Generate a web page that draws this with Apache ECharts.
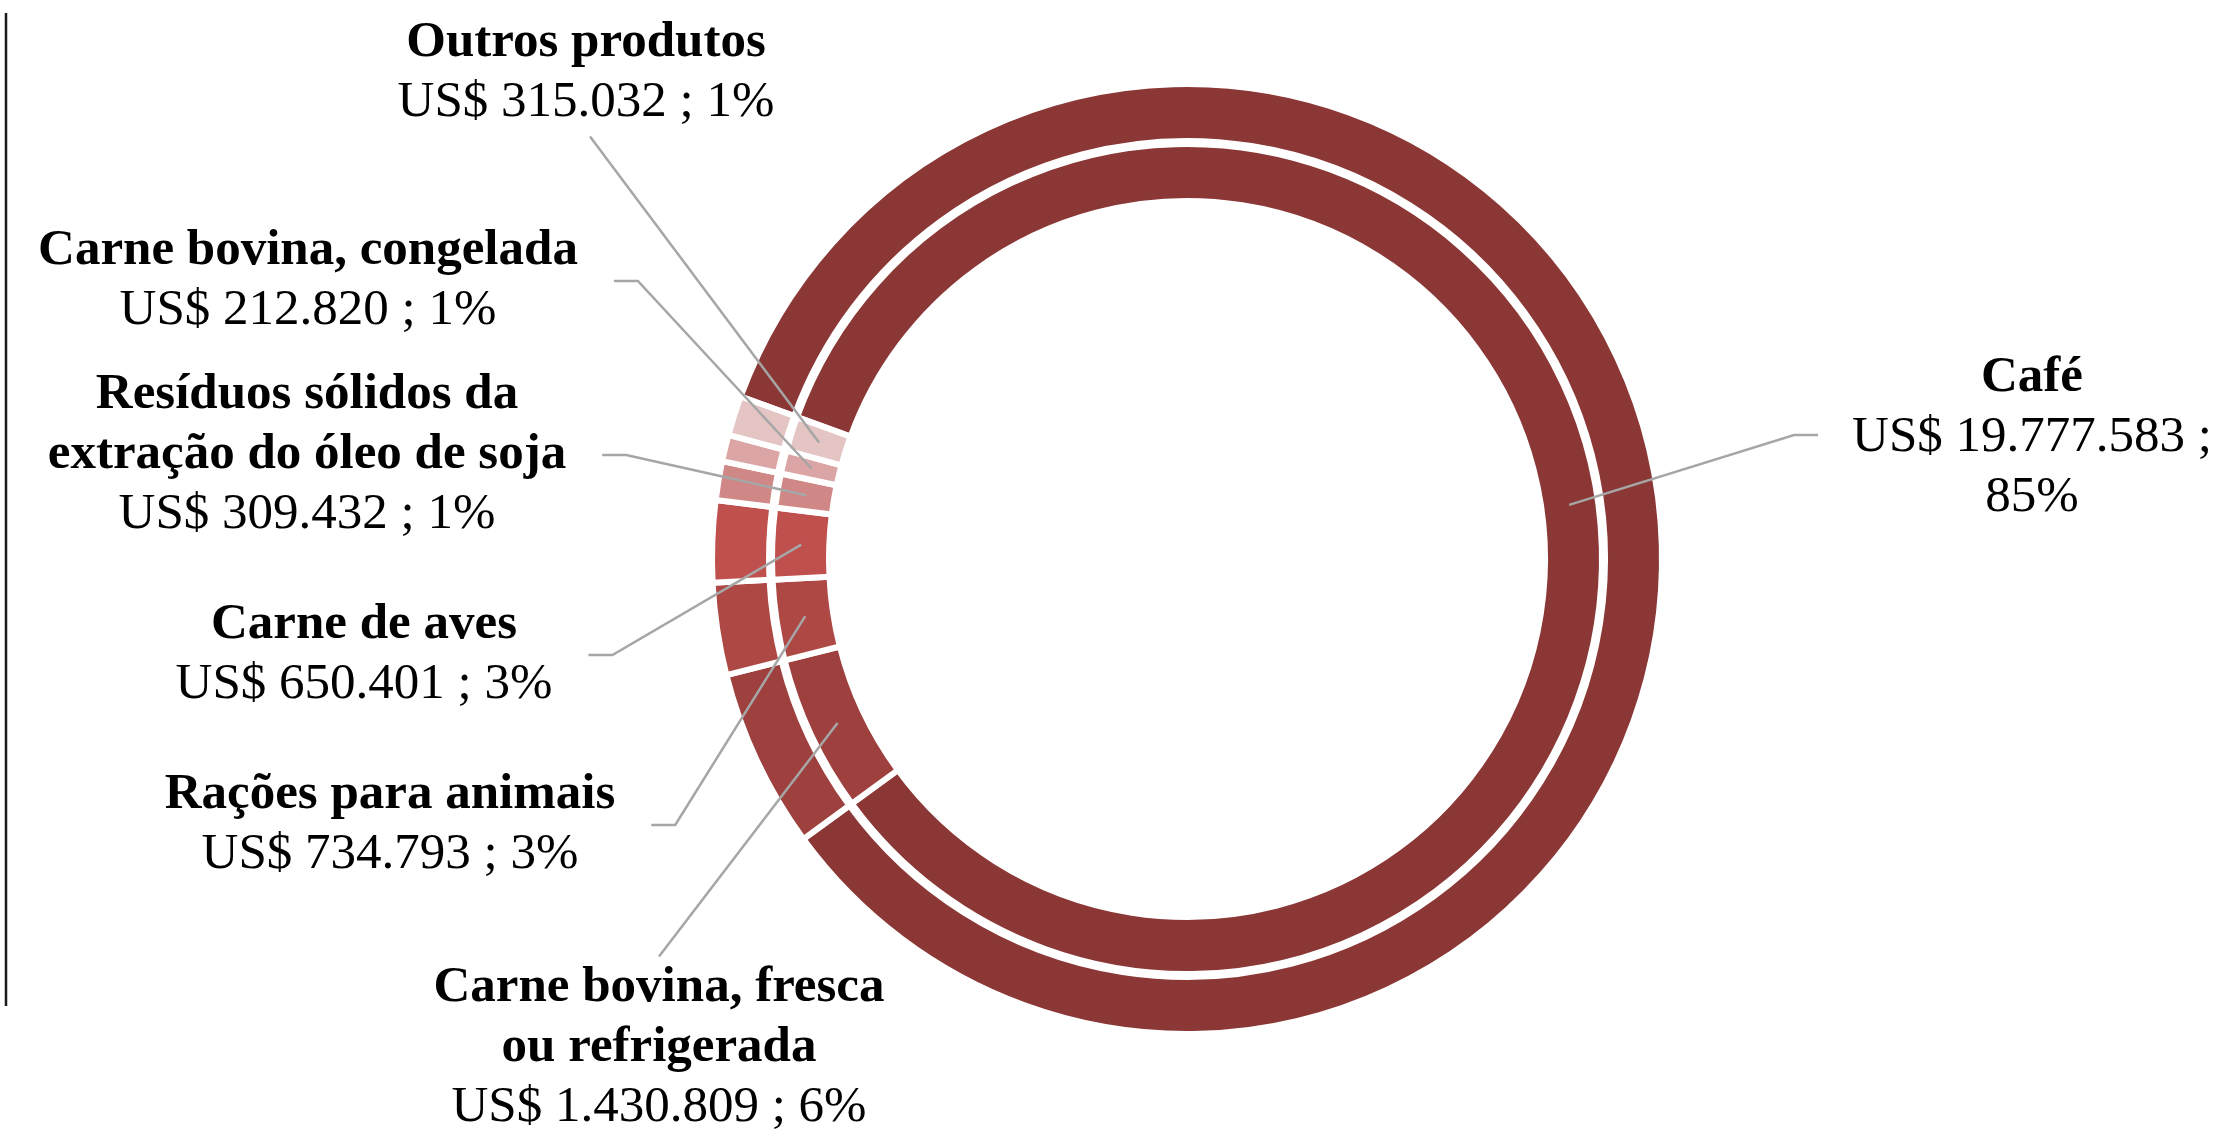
<!DOCTYPE html>
<html>
<head>
<meta charset="utf-8">
<title>Exportações</title>
<script src="https://cdn.jsdelivr.net/npm/echarts@6/dist/echarts.min.js"></script>
<style>
  html, body { margin: 0; padding: 0; background: #fff; }
  #main { width: 2236px; height: 1133px; }
</style>
</head>
<body>
<div id="main"></div>
<script>
// data
const products = [
  'Café',
  'Carne bovina, fresca\nou refrigerada',
  'Rações para animais',
  'Carne de aves',
  'Resíduos sólidos da\nextração do óleo de soja',
  'Carne bovina, congelada',
  'Outros produtos'
]
const valuesUSD = [19777583, 1430809, 734793, 650401, 309432, 212820, 315032]
const percentLabels = ['85%', '6%', '3%', '3%', '1%', '1%', '1%']

const colors = ['#8a3735', '#9e403e', '#ad4845', '#c0504d', '#d08886', '#dca5a5', '#e5c4c4']

// layout
const center = [1187, 559]
const outerRing = [418, 475]
const innerRing = [358, 415]
const ringMid = 386
// label centre [x, y] and the side the leader line meets it
const labelPos = [
  [2032, 438, 'left'],
  [659, 1048, 'top'],
  [390, 825, 'right'],
  [364, 655, 'right'],
  [307, 455, 'right'],
  [308, 281, 'right'],
  [586, 73, 'bottom']
]

function fmt(v) {
  return String(v).replace(/\B(?=(\d{3})+(?!\d))/g, '.')
}

function labelText(p) {
  const nameLines = products[p.dataIndex].split('\n').map((s) => '{b|' + s + '}').join('\n')
  const pct = percentLabels[p.dataIndex]
  const value = p.dataIndex === 0
    ? '{v|US$ ' + fmt(p.value) + ' ;}\n{v|' + pct + '}'
    : '{v|US$ ' + fmt(p.value) + ' ; ' + pct + '}'
  return nameLines + '\n' + value
}

// moves each label to its place and draws the leader from the ring middle
function placeLabel(p) {
  const pos = labelPos[p.dataIndex]
  const w = p.labelRect.width
  const h = p.labelRect.height
  const anchor = p.labelLinePoints[0]
  let end, mid
  if (pos[2] === 'right') {
    end = [pos[0] + w / 2 + 36, pos[1]]
    mid = [end[0] + 24, end[1]]
  } else if (pos[2] === 'left') {
    end = [pos[0] - w / 2 - 34, pos[1] - 3]
    mid = [end[0] - 24, end[1]]
  } else if (pos[2] === 'top') {
    end = [pos[0], pos[1] - h / 2 - 6]
    mid = end
  } else {
    end = [pos[0] + 4, pos[1] + h / 2 + 8]
    mid = end
  }
  return {
    x: pos[0],
    y: pos[1],
    align: 'center',
    verticalAlign: 'middle',
    labelLinePoints: [anchor, mid, end]
  }
}

const pieData = products.map((name, i) => ({
  name: name,
  value: valuesUSD[i],
  itemStyle: { color: colors[i] }
}))

const ringStyle = { borderColor: '#ffffff', borderWidth: 6 }

const option = {
  animation: false,
  backgroundColor: '#ffffff',
  graphic: [
    {
      type: 'line',
      shape: { x1: 6, y1: 13, x2: 6, y2: 1006 },
      style: { stroke: '#1a1a1a', lineWidth: 2.5 }
    }
  ],
  series: [
    {
      name: 'anel externo',
      type: 'pie',
      z: 1,
      center: center,
      radius: outerRing,
      startAngle: 160,
      silent: true,
      label: { show: false },
      labelLine: { show: false },
      itemStyle: ringStyle,
      data: pieData
    },
    {
      name: 'anel interno',
      type: 'pie',
      z: 1,
      center: center,
      radius: innerRing,
      startAngle: 160,
      silent: true,
      label: { show: false },
      labelLine: { show: false },
      itemStyle: ringStyle,
      data: pieData
    },
    {
      // same data, no fill: only carries the labels so their lines sit on top of both rings
      name: 'rótulos',
      type: 'pie',
      z: 5,
      center: center,
      radius: [innerRing[0], ringMid],
      startAngle: 160,
      silent: true,
      avoidLabelOverlap: false,
      itemStyle: { color: 'rgba(0,0,0,0)', borderWidth: 0 },
      label: {
        show: true,
        position: 'outside',
        formatter: labelText,
        fontFamily: 'Liberation Serif',
        color: '#000',
        rich: {
          b: { fontFamily: 'Liberation Serif', fontSize: 51, fontWeight: 'bold', lineHeight: 60, color: '#000' },
          v: { fontFamily: 'Liberation Serif', fontSize: 51, lineHeight: 60, color: '#000' }
        }
      },
      labelLine: {
        show: true,
        length: 20,
        length2: 20,
        lineStyle: { color: '#a6a6a6', width: 2.5 }
      },
      labelLayout: placeLabel,
      data: valuesUSD.map((v, i) => ({ name: products[i], value: v }))
    }
  ]
}

const chart = echarts.init(document.getElementById('main'))
chart.setOption(option)
</script>
</body>
</html>
